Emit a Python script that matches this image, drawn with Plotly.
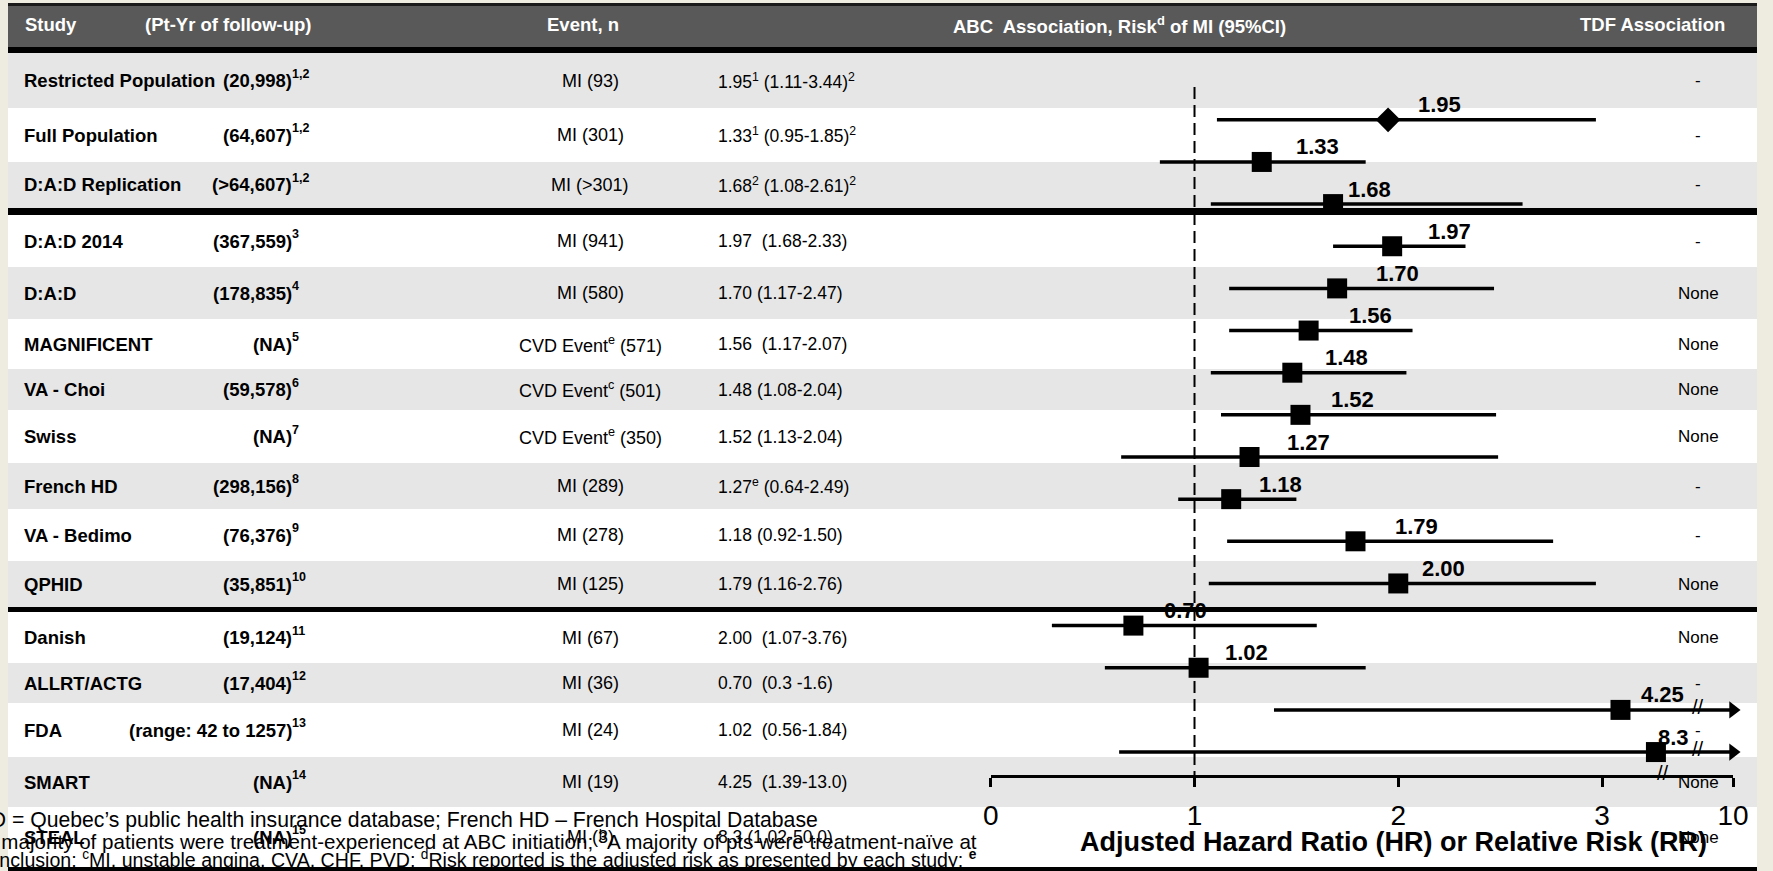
import numpy as np
import plotly.graph_objects as go

W, H = 1773, 871
FONT = "Liberation Sans, Arial, sans-serif"

# ---------------- data ----------------
studies = ["Restricted Population", "Full Population", "D:A:D Replication", "D:A:D 2014", "D:A:D",
           "MAGNIFICENT", "VA - Choi", "Swiss", "French HD", "VA - Bedimo", "QPHID", "Danish",
           "ALLRT/ACTG", "FDA", "SMART", "STEAL"]
pt_years = ["(20,998)", "(64,607)", "(>64,607)", "(367,559)", "(178,835)", "(NA)", "(59,578)", "(NA)",
            "(298,156)", "(76,376)", "(35,851)", "(19,124)", "(17,404)", "(range: 42 to 1257)", "(NA)", "(NA)"]
pt_refs = ["1,2", "1,2", "1,2", "3", "4", "5", "6", "7", "8", "9", "10", "11", "12", "13", "14", "15"]
events = ["MI (93)", "MI (301)", "MI (>301)", "MI (941)", "MI (580)", "CVD Event<sup>e</sup> (571)",
          "CVD Event<sup>c</sup> (501)", "CVD Event<sup>e</sup> (350)", "MI (289)", "MI (278)", "MI (125)",
          "MI (67)", "MI (36)", "MI (24)", "MI (19)", "MI (3)"]
risk_text = ["1.95<sup>1</sup> (1.11-3.44)<sup>2</sup>", "1.33<sup>1</sup> (0.95-1.85)<sup>2</sup>",
             "1.68<sup>2</sup> (1.08-2.61)<sup>2</sup>", "1.97\u00a0 (1.68-2.33)", "1.70 (1.17-2.47)",
             "1.56\u00a0 (1.17-2.07)", "1.48 (1.08-2.04)", "1.52 (1.13-2.04)", "1.27<sup>e</sup> (0.64-2.49)",
             "1.18 (0.92-1.50)", "1.79 (1.16-2.76)", "2.00\u00a0 (1.07-3.76)", "0.70\u00a0 (0.3 -1.6)",
             "1.02\u00a0 (0.56-1.84)", "4.25\u00a0 (1.39-13.0)", "8.3 (1.02-50.0)"]
tdf_assoc = ["-", "-", "-", "-", "None", "None", "None", "None", "-", "-", "None", "None", "-", "-", "None", "None"]

# forest plot values (as drawn)
hr = [1.95, 1.33, 1.68, 1.97, 1.70, 1.56, 1.48, 1.52, 1.27, 1.18, 1.79, 2.00, 0.70, 1.02, 4.25, 8.3]
ci_low = [1.11, 0.83, 1.08, 1.68, 1.17, 1.17, 1.08, 1.13, 0.64, 0.92, 1.16, 1.07, 0.30, 0.56, 1.39, 0.63]
ci_high = [2.97, 1.84, 2.61, 2.33, 2.47, 2.07, 2.04, 2.48, 2.49, 1.50, 2.76, 2.97, 1.60, 1.84, 13.0, 50.0]
hr_labels = ["1.95", "1.33", "1.68", "1.97", "1.70", "1.56", "1.48", "1.52", "1.27", "1.18", "1.79",
             "2.00", "0.70", "1.02", "4.25", "8.3"]
tick_values = [0, 1, 2, 3, 10]
tick_labels = ["0", "1", "2", "3", "10"]

headers = ["Study", "(Pt-Yr of follow-up)", "Event, n",
           "ABC\u00a0 Association, Risk<sup>d</sup> of MI (95%CI)", "TDF Association"]
footnotes = ["QPHID = Quebec\u2019s public health insurance database; French HD \u2013 French Hospital Database",
             "<sup>a</sup>A majority of patients were treatment-experienced at ABC initiation; "
             "<sup>b</sup>A majority of pts were treatment-na\u00efve at",
             "inclusion; <sup>c</sup>MI, unstable angina, CVA, CHF, PVD; <sup>d</sup>Risk reported is the "
             "adjusted risk as presented by each study; <b><sup>e</sup></b>"]
axis_title = "Adjusted Hazard Ratio (HR) or Relative Risk (RR)"

# ---------------- layout constants (pixels of the target picture) ----------------
BAND_TOPS = [53, 108, 162, 215, 267, 319, 369, 410, 463, 509, 561, 612, 663, 703, 757, 807]
BAND_BOTS = [108, 162, 208, 267, 319, 369, 410, 463, 509, 561, 607, 663, 703, 757, 807, 867]
SEPARATORS = [(47, 53), (208, 215), (607, 612), (867, 871)]
LEFT = 7
GRAY = "#E6E6E6"
HEADER = "#595959"
BEIGE = "#EEECE1"

X0_PX, UNIT_PX = 993.5, 203.7          # pixel of HR=0 and pixels per HR unit
Y0_PX, ROW_PX = 119.8, 42.15           # pixel of first forest row, row pitch
AXIS_Y_PX = 776
BREAK_COMPRESS = 0.26
AXIS_END = 3.643                        # display position of the "10" tick (after the break)
LABEL_DX = [51, 55, 36, 57, 60, 61, 53, 51, 58, 49, 60, 45, 51, 47, 41, 17]
LABEL_DY = 15

# horizontal calibration of the rendered page
SX, OX = 0.9862, 11.0


def px_x(x):
    return ((x - OX) / SX) / W


def px_y(y):
    return 1 - y / H


def disp(v):
    """broken axis: linear up to 3, compressed above"""
    v = float(v)
    if v <= 3:
        return v
    if v > tick_values[-1]:
        return AXIS_END
    return 3 + BREAK_COMPRESS * np.log(v / 3)


n = len(hr)
rows = list(range(n))
pos = [disp(v) for v in hr]
lo = [disp(v) for v in ci_low]
hi = [disp(v) for v in ci_high]
beyond = [v > tick_values[-1] for v in ci_high]

fig = go.Figure()

cx, cy = [], []
for i in rows:
    cx += [lo[i], hi[i], None]
    cy += [i, i, None]
fig.add_trace(go.Scatter(x=cx, y=cy, mode="lines", line=dict(color="black", width=3.5),
                         hoverinfo="skip", showlegend=False))
fig.add_trace(go.Scatter(x=[hi[i] for i in rows if beyond[i]], y=[i for i in rows if beyond[i]],
                         mode="markers", marker=dict(symbol="triangle-right", size=15, color="black", opacity=1),
                         cliponaxis=False, hoverinfo="skip", showlegend=False))
symbols = ["diamond"] + ["square"] * (n - 1)
sizes = [19] + [20] * (n - 1)
fig.add_trace(go.Scatter(x=pos, y=rows, mode="markers",
                         marker=dict(symbol=symbols, size=sizes, color="#000000", opacity=1,
                                     line=dict(width=0, color="#000000")),
                         cliponaxis=False, hoverinfo="skip", showlegend=False))

XL, XR = max(px_x(LEFT), 0), 1
shapes = []
shapes.append(dict(type="rect", xref="paper", yref="paper", x0=XL, x1=XR,
                   y0=px_y(871), y1=px_y(3), fillcolor="white", line_width=0, layer="below"))
for i in rows:
    if i % 2 == 0:
        shapes.append(dict(type="rect", xref="paper", yref="paper", x0=XL, x1=XR,
                           y0=px_y(BAND_BOTS[i]), y1=px_y(BAND_TOPS[i]), fillcolor=GRAY,
                           line_width=0, layer="below"))
shapes.append(dict(type="rect", xref="paper", yref="paper", x0=XL, x1=XR,
                   y0=px_y(47), y1=px_y(3), fillcolor=HEADER, line_width=0, layer="below"))
shapes.append(dict(type="rect", xref="paper", yref="paper", x0=XL, x1=XR,
                   y0=px_y(6), y1=px_y(3), fillcolor="#1a1a1a", line_width=0, layer="below"))
for a, b in SEPARATORS:
    shapes.append(dict(type="rect", xref="paper", yref="paper", x0=XL, x1=XR,
                       y0=px_y(b), y1=px_y(a), fillcolor="black", line_width=0, layer="below"))
shapes.append(dict(type="line", xref="x", yref="paper", x0=1, x1=1, y0=px_y(87), y1=px_y(AXIS_Y_PX),
                   line=dict(color="black", width=2, dash="12px,6px"), layer="below"))

ann = []


def txt(x, y, s, size, bold=False, color="black", xanchor="left", yshift=0):
    if bold:
        s = "<b>" + s + "</b>"
    ann.append(dict(x=px_x(x), y=px_y(y), xref="paper", yref="paper", text=s, showarrow=False,
                    xanchor=xanchor, yanchor="middle", yshift=yshift, borderpad=0,
                    font=dict(family=FONT, size=size, color=color)))


HY = 25
txt(27, HY, headers[0], 18.5, True, "white")
txt(147, HY, headers[1], 18.5, True, "white")
txt(586, HY, headers[2], 18.5, True, "white", "center")
txt(955, HY, headers[3], 18.5, True, "white")
txt(1655, HY, headers[4], 18.5, True, "white", "center")

for i in rows:
    yc = (BAND_TOPS[i] + BAND_BOTS[i]) / 2
    txt(26, yc, studies[i], 18.5, True)
    txt(296, yc, pt_years[i], 18.5, True, xanchor="right")
    txt(294, yc, pt_refs[i], 12.5, True, yshift=7)
    txt(593, yc, events[i], 18, False, xanchor="center")
    txt(720, yc, risk_text[i], 17.5, False)
    txt(1701, yc, tdf_assoc[i], 17, False, xanchor="center")

txt(-59, 820, footnotes[0], 21.2)
txt(-23, 840, footnotes[1], 20.6)
txt(-3, 859, footnotes[2], 19.6)

for i in rows:
    ann.append(dict(x=pos[i], y=i, xref="x", yref="y", text="<b>" + hr_labels[i] + "</b>", showarrow=False,
                    xanchor="center", yanchor="middle", xshift=LABEL_DX[i] / SX, yshift=LABEL_DY,
                    font=dict(family=FONT, size=22, color="black")))

ann.append(dict(x=3.30, y=px_y(AXIS_Y_PX), xref="x", yref="paper", text="//", showarrow=False,
                xanchor="center", yanchor="middle", yshift=3, font=dict(family=FONT, size=20, color="black")))
for i in rows:
    if beyond[i]:
        ann.append(dict(x=3.47, y=i, xref="x", yref="y", text="//", showarrow=False,
                        xanchor="center", yanchor="middle", yshift=3,
                        font=dict(family=FONT, size=20, color="black")))

txt(1396, 842, axis_title, 27, True, xanchor="center")

x_end_px = X0_PX + AXIS_END * UNIT_PX
fig.update_layout(
    width=W, height=H, margin=dict(l=0, r=0, t=0, b=0, pad=0), autosize=False,
    paper_bgcolor=BEIGE, plot_bgcolor="rgba(0,0,0,0)",
    shapes=shapes, annotations=ann, showlegend=False,
    xaxis=dict(domain=[px_x(X0_PX), px_x(x_end_px)], range=[0, AXIS_END],
               anchor="free", position=px_y(AXIS_Y_PX),
               tickvals=[disp(v) if v <= 3 else AXIS_END for v in tick_values], ticktext=tick_labels,
               ticks="outside", ticklen=9, tickwidth=2.5, tickcolor="black",
               showline=True, linewidth=3, linecolor="black", showgrid=False, zeroline=False,
               tickfont=dict(family=FONT, size=28, color="black"), ticklabelstandoff=4),
    yaxis=dict(domain=[0, 1], range=[(H - Y0_PX) / ROW_PX, -Y0_PX / ROW_PX],
               visible=False, showgrid=False, zeroline=False),
)

fig.write_html(
    "out.html",
    config={"displayModeBar": False, "responsive": False},
    post_script=("document.documentElement.style.margin='0px';document.documentElement.style.overflow='hidden';"
                 "document.body.style.margin='0px';document.body.style.overflow='hidden';"
                 "document.body.style.background='" + BEIGE + "';"),
)
